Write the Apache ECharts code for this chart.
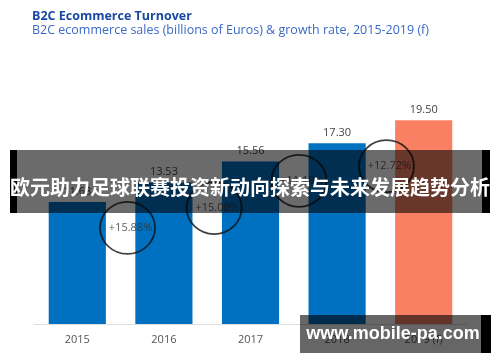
<!DOCTYPE html>
<html>
<head>
<meta charset="utf-8">
<script src="https://cdn.jsdelivr.net/npm/echarts@6/dist/echarts.min.js"></script>
<style>
html,body{margin:0;padding:0;background:#fff;}
#main{width:500px;height:362px;}
</style>
</head>
<body>
<div id="main"></div>
<script>
// ---- data ----
const categories = ['2015', '2016', '2017', '2018', '2019 (f)'];
const sales = [11.68, 13.53, 15.56, 17.30, 19.50];
const growthLabels = ['+15.88%', '+15.00%', '+11.18%', '+12.72%'];
const growthMarkX = [0.58, 1.58, 2.56, 3.57];
const growthMarkY = [9.2, 11.1, 13.7, 15.1];
const titleText = 'B2C Ecommerce Turnover';
const subtitleText = 'B2C ecommerce sales (billions of Euros) & growth rate, 2015-2019 (f)';
const bannerText = '欧元助力足球联赛投资新动向探索与未来发展趋势分析';
const watermarkText = 'www.mobile-pa.com';

const chart = echarts.init(document.getElementById('main'), null, {renderer: 'canvas'});
const font = '"Open Sans", "Noto Sans", sans-serif';

const option = {
  animation: false,
  backgroundColor: '#ffffff',
  textStyle: {fontFamily: font},
  title: {
    left: 27, top: 5,
    text: titleText,
    subtext: subtitleText,
    itemGap: 1,
    textStyle: {fontFamily: font, fontSize: 12.5, fontWeight: 'bold', color: '#1a48a2'},
    subtextStyle: {fontFamily: font, fontSize: 12.5, color: '#3b69c6'}
  },
  grid: {left: 34, right: 33, top: 115, bottom: 38},
  xAxis: [{
    type: 'category',
    data: categories,
    axisLine: {lineStyle: {color: '#dddddd', width: 1}},
    axisTick: {show: false},
    axisLabel: {color: '#555555', fontSize: 11, margin: 10, fontFamily: font}
  }, {
    type: 'value', min: -0.5, max: 4.5, show: false
  }],
  yAxis: {
    type: 'value', min: 0, max: 20, show: false
  },
  series: [{
    type: 'bar',
    data: sales.map((v, i) => ({
      value: v,
      itemStyle: {color: i === sales.length - 1 ? '#fa8064' : '#0070c0'}
    })),
    barCategoryGap: '34%',
    label: {
      show: true, position: 'top', distance: 5,
      color: '#444444', fontSize: 11, fontFamily: font,
      formatter: p => p.value.toFixed(2)
    }
  }, {
    type: 'scatter',
    xAxisIndex: 1,
    data: growthLabels.map((t, i) => ({value: [growthMarkX[i], growthMarkY[i]], name: t})),
    symbol: 'circle',
    symbolSize: [55, 52],
    itemStyle: {color: 'rgba(0,0,0,0)', borderColor: '#111111', borderWidth: 1.8},
    label: {
      show: true, position: 'inside', color: '#333333', fontSize: 11, fontFamily: font,
      offset: [3, 0],
      formatter: p => p.name
    },
    z: 5
  }],
  graphic: [
    {type: 'rect', z: 100, shape: {x: 17, y: 150, width: 465, height: 63}, style: {fill: 'rgba(0,0,0,0.58)'}},
    {type: 'rect', z: 100, shape: {x: 10, y: 150, width: 7, height: 63}, style: {fill: '#000000'}},
    {type: 'rect', z: 100, shape: {x: 482, y: 150, width: 8, height: 63}, style: {fill: '#000000'}},
    {type: 'text', z: 101, x: 250, y: 187,
      style: {text: bannerText, fill: '#ffffff', font: 'bold 20px "Noto Sans CJK SC", sans-serif', align: 'center', verticalAlign: 'middle'}},
    {type: 'rect', z: 100, shape: {x: 300, y: 315, width: 181, height: 38}, style: {fill: 'rgba(0,0,0,0.6)'}},
    {type: 'rect', z: 100, shape: {x: 481, y: 315, width: 10, height: 38}, style: {fill: '#000000'}},
    {type: 'text', z: 101, x: 393, y: 334,
      style: {text: watermarkText, fill: '#ffffff', font: 'bold 18px "Liberation Sans", Arial, sans-serif', align: 'center', verticalAlign: 'middle'}}
  ]
};
chart.setOption(option);
</script>
</body>
</html>
